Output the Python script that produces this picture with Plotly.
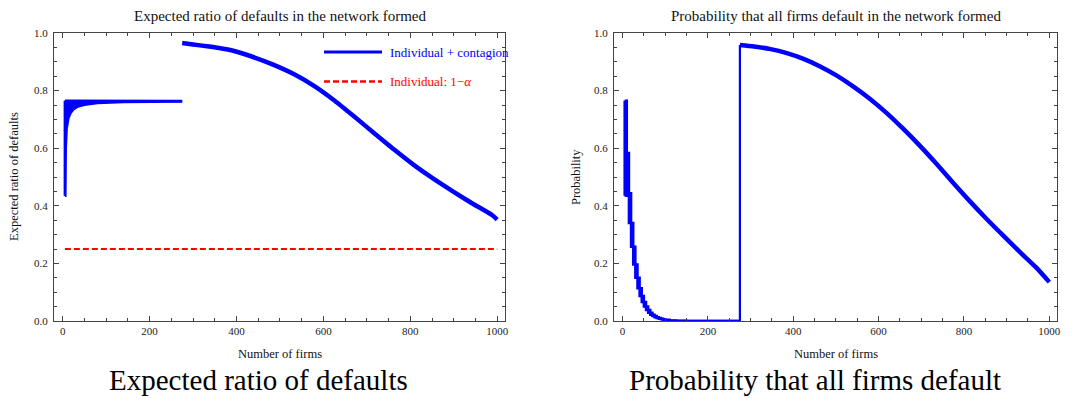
import plotly.graph_objects as go

# ---------------- data ----------------
# Left panel: expected ratio of defaults
exp_low_upper_n = [5, 275]
exp_low_upper_v = [0.765, 0.764]
exp_low_lower_n = [5, 6, 7, 9, 13, 18, 25, 35, 50, 80, 140, 275]
exp_low_lower_v = [0.435, 0.435, 0.600, 0.667, 0.704, 0.722, 0.735, 0.745, 0.751, 0.757, 0.760, 0.762]

exp_high_n = [275, 300, 332, 360, 388, 430, 483, 535, 581, 626, 671, 717, 762, 807, 853, 898, 943, 988, 1000]
exp_high_v = [0.965, 0.960, 0.954, 0.948, 0.940, 0.921, 0.891, 0.855, 0.814, 0.765, 0.710, 0.652,
              0.596, 0.543, 0.494, 0.450, 0.408, 0.368, 0.352]

indiv_n = [5, 1000]
indiv_v = [0.25, 0.25]

# Right panel: probability that all firms default
prob_step_n = [5, 10, 15, 20, 25, 30, 35, 40, 45, 50, 55, 60, 65, 70, 75, 80, 85, 90, 95, 100, 110, 125, 150, 275]
prob_step_top = [0.765, 0.583, 0.444, 0.340, 0.258, 0.196, 0.150, 0.114, 0.087, 0.066, 0.050, 0.038,
                 0.029, 0.022, 0.017, 0.013, 0.010, 0.008, 0.006, 0.004, 0.002, 0.001, 0.0, 0.0]
prob_step_bottom = [0.435, 0.444, 0.340, 0.258, 0.196, 0.150, 0.114, 0.087, 0.066, 0.050, 0.038, 0.029,
                    0.022, 0.017, 0.013, 0.010, 0.008, 0.006, 0.004, 0.002, 0.001, 0.0, 0.0, 0.0]

prob_jump_n = [150, 275, 275]
prob_jump_v = [0.0, 0.0, 0.958]

prob_high_n = [275, 308, 347, 385, 424, 463, 502, 541, 580, 619, 658, 697, 736, 774, 813, 852, 891, 930, 969, 1000]
prob_high_v = [0.958, 0.953, 0.944, 0.930, 0.910, 0.884, 0.852, 0.814, 0.771, 0.722, 0.667, 0.608,
               0.545, 0.481, 0.417, 0.356, 0.298, 0.241, 0.186, 0.135]

x_tick_vals = [0, 200, 400, 600, 800, 1000]
y_tick_vals = [0.0, 0.2, 0.4, 0.6, 0.8, 1.0]

# ---------------- figure ----------------
BLUE = "#0000ff"
RED = "#ff0000"
SERIF = "Liberation Serif, Times New Roman, serif"
FRAME = "#444444"

fig = go.Figure()

# left panel
fig.add_trace(go.Scatter(x=exp_low_upper_n, y=exp_low_upper_v, mode="lines",
                         line=dict(color=BLUE, width=2.5), xaxis="x", yaxis="y", showlegend=False))
fig.add_trace(go.Scatter(x=exp_low_lower_n, y=exp_low_lower_v, mode="lines", fill="tonexty",
                         fillcolor=BLUE, line=dict(color=BLUE, width=2.5), xaxis="x", yaxis="y",
                         showlegend=False))
fig.add_trace(go.Scatter(x=[exp_low_lower_n[0], exp_low_upper_n[0]],
                         y=[exp_low_lower_v[0], exp_low_upper_v[0]], mode="lines",
                         line=dict(color=BLUE, width=2.5), xaxis="x", yaxis="y", showlegend=False))
fig.add_trace(go.Scatter(x=exp_high_n, y=exp_high_v, mode="lines", line_shape="spline",
                         line=dict(color=BLUE, width=4.5, smoothing=0.6), xaxis="x", yaxis="y",
                         showlegend=False))
fig.add_trace(go.Scatter(x=indiv_n, y=indiv_v, mode="lines",
                         line=dict(color=RED, width=2, dash="6px,3px"), xaxis="x", yaxis="y",
                         showlegend=False))

# right panel
fig.add_trace(go.Scatter(x=prob_step_n, y=prob_step_top, mode="lines", line_shape="hv",
                         line=dict(color=BLUE, width=2.5), xaxis="x2", yaxis="y2", showlegend=False))
fig.add_trace(go.Scatter(x=prob_step_n, y=prob_step_bottom, mode="lines", line_shape="hv",
                         fill="tonexty", fillcolor=BLUE,
                         line=dict(color=BLUE, width=2.5), xaxis="x2", yaxis="y2", showlegend=False))
fig.add_trace(go.Scatter(x=[prob_step_n[0], prob_step_n[0]], y=[prob_step_bottom[0], prob_step_top[0]],
                         mode="lines", line=dict(color=BLUE, width=2.5), xaxis="x2", yaxis="y2",
                         showlegend=False))
fig.add_trace(go.Scatter(x=prob_jump_n, y=prob_jump_v, mode="lines",
                         line=dict(color=BLUE, width=2.2), xaxis="x2", yaxis="y2", showlegend=False))
fig.add_trace(go.Scatter(x=prob_high_n, y=prob_high_v, mode="lines", line_shape="spline",
                         line=dict(color=BLUE, width=4.5, smoothing=0.6), xaxis="x2", yaxis="y2",
                         showlegend=False))


def xaxis_style(domain):
    return dict(domain=domain, range=[-20, 1018], showline=True, linecolor=FRAME, linewidth=1,
                mirror="allticks", ticks="inside", ticklen=5, tickwidth=1, tickcolor=FRAME,
                tickvals=x_tick_vals, ticktext=[str(v) for v in x_tick_vals],
                minor=dict(dtick=50, tick0=0, ticks="inside", ticklen=3, tickcolor=FRAME),
                showgrid=False, zeroline=False,
                tickfont=dict(family=SERIF, size=11, color="#222"))


def yaxis_style(anchor):
    return dict(domain=[0, 1], anchor=anchor, range=[0, 1], showline=True, linecolor=FRAME,
                linewidth=1, mirror="allticks", ticks="inside", ticklen=5, tickwidth=1,
                tickcolor=FRAME, tickvals=y_tick_vals, ticktext=["%.1f" % v for v in y_tick_vals],
                minor=dict(dtick=0.05, tick0=0, ticks="inside", ticklen=3, tickcolor=FRAME),
                showgrid=False, zeroline=False, ticklabelstandoff=3,
                tickfont=dict(family=SERIF, size=11, color="#222"))


# The page body has an 8px margin, so the figure is offset by 8px in the window.
OFF = 8
W, H = 1087 - OFF, 398 - OFF
PLOT_L, PLOT_R, PLOT_T, PLOT_B = 54, 1057, 33, 321   # window pixels of the plotting region
L = PLOT_L - OFF
T = PLOT_T - OFF
R = W - (PLOT_R - OFF)
B = H - (PLOT_B - OFF)
PW = PLOT_R - PLOT_L
PH = PLOT_B - PLOT_T
x1_dom = [0, (505 - PLOT_L) / PW]
x2_dom = [(614 - PLOT_L) / PW, 1]

fig.update_layout(
    width=W, height=H,
    margin=dict(l=L, r=R, t=T, b=B),
    paper_bgcolor="white", plot_bgcolor="white",
    xaxis=xaxis_style(x1_dom) | dict(anchor="y"),
    yaxis=yaxis_style("x"),
    xaxis2=xaxis_style(x2_dom) | dict(anchor="y2"),
    yaxis2=yaxis_style("x2"),
    showlegend=False,
)


def py(pixel_y):
    return (PLOT_B - pixel_y) / PH


def px(pixel_x):
    return (pixel_x - PLOT_L) / PW


ann = []
# panel titles
ann.append(dict(text="Expected ratio of defaults in the network formed", xref="paper", yref="paper",
                x=px(279.5), y=py(16), xanchor="center", yanchor="middle", showarrow=False,
                borderpad=0, font=dict(family=SERIF, size=15, color="#111")))
ann.append(dict(text="Probability that all firms default in the network formed", xref="paper",
                yref="paper", x=px(835.5), y=py(16), xanchor="center", yanchor="middle",
                showarrow=False, borderpad=0, font=dict(family=SERIF, size=15, color="#111")))
# axis titles
for xc in (279.5, 835.5):
    ann.append(dict(text="Number of firms", xref="paper", yref="paper", x=px(xc), y=py(354),
                    xanchor="center", yanchor="middle", showarrow=False, borderpad=0,
                    font=dict(family=SERIF, size=12.5, color="#111")))
ann.append(dict(text="Expected ratio of defaults", xref="paper", yref="paper", x=px(14), y=py(177),
                xanchor="center", yanchor="middle", textangle=-90, showarrow=False,
                font=dict(family=SERIF, size=12.5, color="#111")))
ann.append(dict(text="Probability", xref="paper", yref="paper", x=px(576), y=py(177),
                xanchor="center", yanchor="middle", textangle=-90, showarrow=False,
                font=dict(family=SERIF, size=12.5, color="#111")))
# captions
ann.append(dict(text="Expected ratio of defaults", xref="paper", yref="paper", x=px(258.5), y=py(380),
                xanchor="center", yanchor="middle", showarrow=False, borderpad=0,
                font=dict(family=SERIF, size=29, color="#000")))
ann.append(dict(text="Probability that all firms default", xref="paper", yref="paper", x=px(815),
                y=py(380), xanchor="center", yanchor="middle", showarrow=False, borderpad=0,
                font=dict(family=SERIF, size=29, color="#000")))
# legend text
ann.append(dict(text="Individual + contagion", xref="paper", yref="paper", x=px(388), y=py(52),
                xanchor="left", yanchor="middle", showarrow=False,
                font=dict(family=SERIF, size=13, color=BLUE)))
ann.append(dict(text="Individual: 1\u2212<i>\u03b1</i>", xref="paper", yref="paper", x=px(388),
                y=py(81.5), xanchor="left", yanchor="middle", showarrow=False,
                font=dict(family=SERIF, size=13, color=RED)))

shapes = [
    dict(type="line", xref="paper", yref="paper", x0=px(324), x1=px(382), y0=py(52), y1=py(52),
         line=dict(color=BLUE, width=3)),
    dict(type="line", xref="paper", yref="paper", x0=px(324), x1=px(382), y0=py(81.5), y1=py(81.5),
         line=dict(color=RED, width=2.5, dash="6px,3px")),
]

fig.update_layout(annotations=ann, shapes=shapes)
fig.write_html("out.html")
